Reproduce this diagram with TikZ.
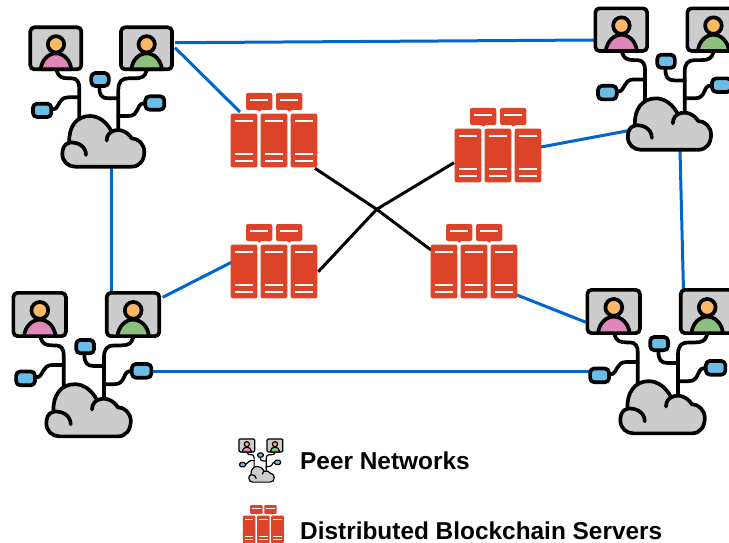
\documentclass[tikz,border=0pt]{standalone}
\usepackage{fontspec}
\setmainfont{Liberation Sans}
\definecolor{srvred}{HTML}{DD4328}
\definecolor{linkblue}{HTML}{0066CC}
\definecolor{gfill}{HTML}{CCCCCC}
\definecolor{chipblue}{HTML}{69BDE6}
\definecolor{pinkb}{HTML}{DF87BB}
\definecolor{greenb}{HTML}{8DBF7E}
\definecolor{headc}{HTML}{FBB866}
\tikzset{
  bluelink/.style={draw=linkblue,line width=3pt},
  blacklink/.style={draw=black,line width=3pt,line join=round},
  legendtext/.style={anchor=base west,inner sep=0pt,font=\fontsize{24.4}{28}\selectfont\bfseries},
}
% #1,#2 top-left; #3 scale; #4 line width
\newcommand{\peericon}[4]{%
\begin{scope}[shift={(#1,#2)},scale=#3/3,shift={(-87,-48)},line width=#4,draw=black,line cap=round,line join=round]
  \draw (170,182) .. controls (175,200) and (185,205) .. (205,205) -- (215,205) .. controls (230,205) and (238,215) .. (238,235) -- (238,325);
  \draw (158,298) .. controls (180,298) and (172,262) .. (205,262) -- (238,262);
  \draw (440,182) .. controls (435,200) and (425,205) .. (405,205) -- (385,205) .. controls (365,205) and (355,215) .. (355,240) -- (355,355);
  \draw (298,232) .. controls (298,255) and (305,265) .. (325,265) -- (355,265);
  \draw (432,280) .. controls (408,280) and (420,318) .. (385,318) -- (355,318);
  \foreach \ax/\ay/\bx/\by in {99/281/154/321, 274/189/326/228, 436/259/493/299}
    \draw[fill=chipblue,rounded corners=#3*4pt] (\ax,\ay) rectangle (\bx,\by);
  \foreach \ox/\bc in {0/pinkb,272/greenb}{
    \begin{scope}[shift={(\ox,0)}]
      \draw[fill=gfill,rounded corners=#3*4pt] (91,52) rectangle (244,178);
      \draw[fill=\bc] (122,178) .. controls (125,150) and (145,130) .. (168,130) .. controls (191,130) and (211,150) .. (214,178) -- cycle;
      \draw[fill=headc] (168,103) circle[radius=24.5];
    \end{scope}}
  \draw[fill=gfill] (225,470) -- (395,470) .. controls (420,470) and (433,450) .. (433,425) .. controls (433,403) and (415,385) .. (395,385)
    .. controls (385,368) and (360,352) .. (335,365) .. controls (320,335) and (295,318) .. (270,318) .. controls (230,318) and (205,350) .. (208,398)
    .. controls (190,402) and (187,420) .. (187,432) .. controls (187,455) and (205,470) .. (225,470) -- cycle;
  \draw (320,392) .. controls (320,375) and (330,368) .. (335,365);
  \draw (208,398) .. controls (235,395) and (258,410) .. (258,435);
\end{scope}}
% #1,#2 top-left; #3 x scale; #4 y scale; #5 line width
\newcommand{\servericon}[5]{%
\begin{scope}[shift={(#1,#2)},xscale=#3/3,yscale=#4/3,shift={(-32,-25)}]
  \foreach \tx in {78,168}{
    \fill[srvred,rounded corners=#3*2pt] (\tx-1,25) rectangle (\tx+78,76);
    \fill[srvred] (\tx+32,76) -- (\tx+39,81) -- (\tx+46,76) -- cycle;
    \draw[white,line width=#5] (\tx+12,47) -- (\tx+65,47);}
  \foreach \tx in {32,122,212}{
    \fill[srvred,rounded corners=#3*2pt] (\tx-1,87) rectangle (\tx+79,248);
    \foreach \ty in {110,208,228}
      \draw[white,line width=#5] (\tx+13,\ty) -- (\tx+66,\ty);}
\end{scope}}
\begin{document}
\begin{tikzpicture}[x=1pt,y=-1pt]
\useasboundingbox (0,0) rectangle (729,543);
\clip (0,0) rectangle (729,543);
\fill[white] (0,0) rectangle (729,543);
% connector ends
\coordinate (p1mon) at (175,42.7);
\coordinate (p1srv) at (175,47.7);
\coordinate (p1cloud) at (111.7,166);
\coordinate (p2mon) at (594,40);
\coordinate (p2cloud) at (632,130);
\coordinate (p2down) at (680,150);
\coordinate (p3mon) at (111.7,293);
\coordinate (p3srv) at (162.7,297.3);
\coordinate (p3chip) at (152,371.7);
\coordinate (p4chip) at (592,371.7);
\coordinate (p4mon) at (586,322.3);
\coordinate (p4up) at (683.5,291);
\coordinate (s1a) at (240,112);
\coordinate (s1b) at (315,168.3);
\coordinate (s2a) at (541,147);
\coordinate (s2b) at (454,162.7);
\coordinate (s3a) at (232,262);
\coordinate (s3b) at (318.3,271.7);
\coordinate (s4a) at (517,295);
\coordinate (s4b) at (431,250);
\coordinate (cross) at (376.7,209.3);
\draw[bluelink] (p1mon) -- (p2mon);
\draw[bluelink] (p1srv) -- (s1a);
\draw[bluelink] (p1cloud) -- (p3mon);
\draw[bluelink] (p3srv) -- (s3a);
\draw[bluelink] (p3chip) -- (p4chip);
\draw[bluelink] (s4a) -- (p4mon);
\draw[bluelink] (s2a) -- (p2cloud);
\draw[bluelink] (p2down) -- (p4up);
\draw[blacklink] (s1b) -- (cross) -- (s4b);
\draw[blacklink] (s3b) -- (cross) -- (s2b);
% peers
\peericon{29}{26}{1}{3.7pt}
\peericon{594}{7}{1.015}{3.7pt}
\peericon{12}{291.5}{1.03}{3.7pt}
\peericon{586}{288.5}{1.03}{3.7pt}
\peericon{238.5}{438.5}{0.31}{1.2pt}
% servers
\servericon{231}{93}{1}{1}{2pt}
\servericon{455}{108}{1}{1}{2pt}
\servericon{231}{224}{1}{1}{2pt}
\servericon{431}{224}{1}{1}{2pt}
\servericon{243}{505}{0.473}{0.515}{1.1pt}
% legend
\node[legendtext] (lpeer) at (300,469) {Peer Networks};
\node[legendtext] (lsrv) at (300,539) {Distributed Blockchain Servers};
\end{tikzpicture}
\end{document}
